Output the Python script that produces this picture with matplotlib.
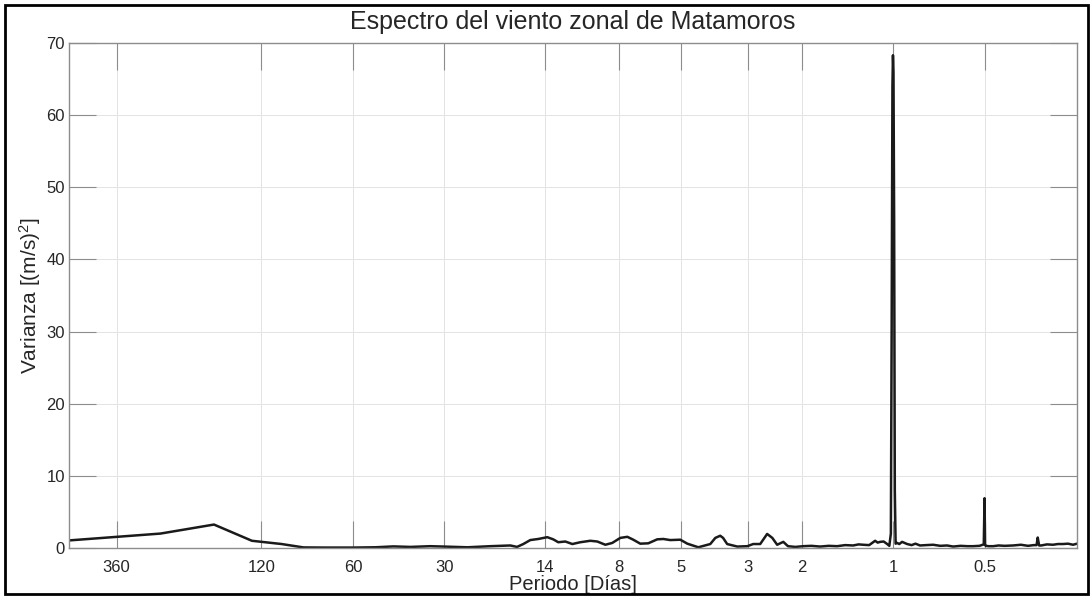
import numpy as np
import matplotlib.pyplot as plt
from matplotlib.ticker import NullLocator
from matplotlib.patches import Rectangle

plt.rcParams['font.family'] = ['Liberation Sans', 'DejaVu Sans']
plt.rcParams['mathtext.default'] = 'regular'

# spectrum: period in days and variance in (m/s)^2
periodo = [516, 258, 172, 129, 103, 87.3, 74, 59.8, 50.6, 44.2,
           38.8, 33.4, 30.2, 25.2, 21.2, 18.2, 17.3, 16.5, 15.65, 14.73,
           13.76, 13.15, 12.66, 12.0, 11.38, 10.71, 9.93, 9.42, 8.86, 8.41,
           7.91, 7.50, 7.17, 6.80, 6.40, 5.98, 5.71, 5.42, 5.02, 4.76,
           4.38, 4.00, 3.85, 3.71, 3.63, 3.52, 3.26, 3.02, 2.89, 2.74,
           2.60, 2.50, 2.41, 2.30, 2.22, 2.10, 1.98, 1.86, 1.74, 1.63,
           1.53, 1.44, 1.355, 1.30, 1.256, 1.20, 1.147, 1.125, 1.104, 1.075,
           1.047, 1.030, 1.018, 1.012, 1.006, 1.002, 0.998, 0.993, 0.988, 0.982,
           0.971, 0.955, 0.935, 0.900, 0.870, 0.845, 0.816, 0.780, 0.739, 0.70,
           0.665, 0.635, 0.600, 0.570, 0.546, 0.520, 0.5035, 0.5005, 0.4985, 0.496,
           0.485, 0.469, 0.450, 0.430, 0.403, 0.380, 0.360, 0.345, 0.3375, 0.3345,
           0.331, 0.326, 0.312, 0.298, 0.287, 0.276, 0.266, 0.256, 0.2484]
varianza = [1.05, 2.0, 3.25, 1.0, 0.55, 0.08, 0.06, 0.06, 0.1, 0.22,
            0.15, 0.25, 0.2, 0.1, 0.25, 0.35, 0.15, 0.55, 1.1, 1.25,
            1.5, 1.2, 0.8, 0.9, 0.55, 0.8, 1.0, 0.9, 0.45, 0.7,
            1.4, 1.55, 1.15, 0.6, 0.65, 1.2, 1.25, 1.1, 1.15, 0.6,
            0.1, 0.55, 1.4, 1.7, 1.4, 0.55, 0.2, 0.25, 0.55, 0.55,
            1.95, 1.4, 0.45, 0.85, 0.25, 0.15, 0.25, 0.3, 0.2, 0.3,
            0.25, 0.4, 0.35, 0.5, 0.45, 0.4, 1.0, 0.75, 0.85, 0.9,
            0.55, 0.3, 2.0, 30.0, 64.0, 68.3, 66.0, 45.0, 8.0, 0.6,
            0.7, 0.55, 0.85, 0.55, 0.4, 0.6, 0.35, 0.4, 0.45, 0.3,
            0.35, 0.2, 0.3, 0.25, 0.25, 0.3, 0.5, 6.9, 0.4, 0.3,
            0.25, 0.25, 0.35, 0.3, 0.35, 0.45, 0.3, 0.4, 0.4, 1.45,
            0.35, 0.35, 0.5, 0.45, 0.55, 0.55, 0.6, 0.45, 0.6]

ticks_periodo = [360, 120, 60, 30, 14, 8, 5, 3, 2, 1, 0.5]
ticks_labels = ['360', '120', '60', '30', '14', '8', '5', '3', '2', '1', '0.5']

fig = plt.figure(figsize=(10.91, 5.97), dpi=100)
ax = fig.add_axes([69/1091, 1 - 548/597, (1077 - 69)/1091, (548 - 43)/597])

ax.plot(periodo, varianza, color='#1a1a1a', lw=1.8)

ax.set_xscale('log')
ax.set_xlim(516, 0.2484)
ax.set_ylim(0, 70)
ax.set_xticks(ticks_periodo)
ax.set_xticklabels(ticks_labels)
ax.xaxis.set_minor_locator(NullLocator())
ax.set_yticks(np.arange(0, 71, 10))

# matlab-like look: long inward ticks on all sides, light grid
ax.tick_params(direction='in', length=19.5, width=0.8, color='#8c8c8c',
               top=True, right=True, labelsize=12, labelcolor='#262626')
ax.tick_params(axis='x', pad=9)
ax.tick_params(axis='y', pad=3)
ax.grid(True, color='#e3e3e3', lw=0.7, ls='-')
ax.set_axisbelow(True)
for s in ax.spines.values():
  s.set_color('#8c8c8c')
  s.set_linewidth(1.0)

ax.set_title('Espectro del viento zonal de Matamoros', fontsize=18, color='#262626', pad=10)
ax.set_xlabel('Periodo [Días]', fontsize=14.5, color='#262626', labelpad=0)
ax.set_ylabel('Varianza [(m/s)$^{2}$]', fontsize=15, color='#262626', labelpad=2)

# black frame around the whole figure
fig.patches.append(Rectangle((5/1091, 3/597), 1083/1091, 589/597, transform=fig.transFigure,
                             fill=False, ec='black', lw=2, zorder=10))

plt.savefig('out.png', dpi=100)
